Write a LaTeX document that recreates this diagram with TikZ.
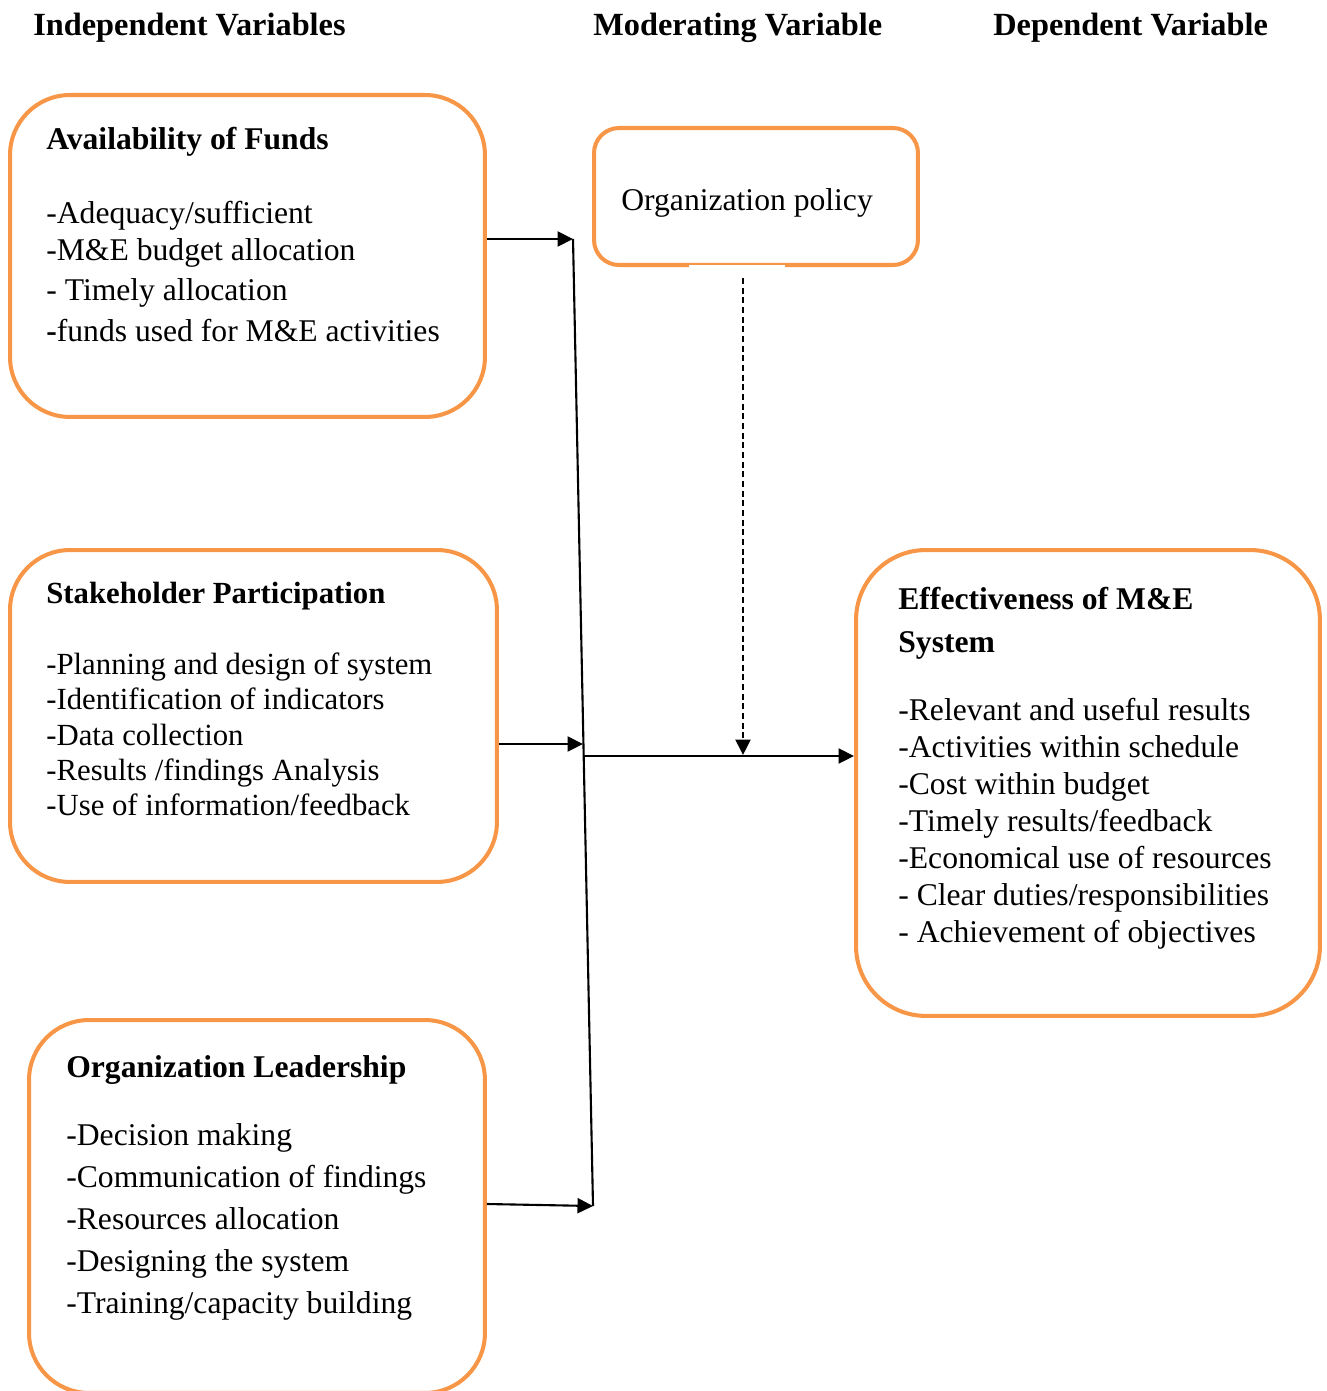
\documentclass[tikz,border=0pt]{standalone}
\usepackage{fontspec}
\setmainfont{Liberation Serif}
\usetikzlibrary{positioning,arrows.meta}
\definecolor{boxorange}{RGB}{247,150,70}
\tikzset{
  varbox/.style={draw=boxorange,line width=2.3pt,rounded corners=1.2cm,anchor=north west,inner sep=0pt},
  vartext/.style={anchor=north west,align=left,inner sep=0pt},
  heading/.style={anchor=base west,inner sep=0pt,font=\fontsize{18.4}{21}\selectfont\bfseries},
  link/.style={line width=1.2pt,-{Triangle[length=0.31cm,width=0.3cm]}},
}

\begin{document}
\begin{tikzpicture}[x=0.02cm,y=-0.02cm]
\useasboundingbox (0,0) rectangle (1326,1391);

\node[heading] (hind) at (33,36) {Independent Variables};
\node[heading] (hmod) at (593,36) {Moderating Variable};
\node[heading] (hdep) at (993,36) {Dependent Variable};

\node[varbox,minimum width=9.5cm,minimum height=6.44cm] (fundsbox) at (8,93) {};
\node[varbox,rounded corners=0.5cm,minimum width=6.48cm,minimum height=2.74cm] (policybox) at (592,126) {};
\node[varbox,minimum width=9.74cm,minimum height=6.64cm] (stakebox) at (8,548) {};
\node[varbox,minimum width=9.12cm,minimum height=7.46cm] (leadbox) at (27,1018) {};
\node[varbox,rounded corners=1.4cm,minimum width=9.28cm,minimum height=9.32cm] (effbox) at (854,548) {};
\draw[white,line width=3pt] (689,268) -- (785,268);

\node[vartext,font=\fontsize{18}{21}\selectfont] (fundstext) at (46,127)
  {\textbf{Availability of Funds}\\[21pt]
   -Adequacy/sufficient\\
   -M\&E budget allocation\\[2pt]
   - Timely allocation\\[2pt]
   \textbf{-}funds used for M\&E activities};
\node[anchor=base west,inner sep=0pt,font=\fontsize{18}{21}\selectfont] (policytext) at (621,211) {Organization policy};
\node[vartext,font=\fontsize{17.5}{20}\selectfont] (staketext) at (46,582)
  {\textbf{Stakeholder Participation}\\[20.5pt]
   -Planning and design of system\\
   -Identification of indicators\\
   -Data collection\\
   -Results /findings Analysis\\
   -Use of information/feedback};
\node[vartext,font=\fontsize{18}{24}\selectfont] (leadtext) at (66,1055)
  {\textbf{Organization Leadership}\\[14.6pt]
   -Decision making\\
   -Communication of findings\\
   -Resources allocation\\
   -Designing the system\\
   -Training/capacity building};
\node[vartext,font=\fontsize{18}{21}\selectfont] (efftext) at (898,587)
  {\textbf{Effectiveness of M\&E}\\[3.5pt]
   \textbf{System}\\[17.7pt]
   -Relevant and useful results\\
   -Activities within schedule\\
   -Cost within budget\\
   -Timely results/feedback\\
   -Economical use of resources\\
   - Clear duties/responsibilities\\
   - Achievement of objectives};

\coordinate (jtop) at (573,239);
\coordinate (jmid) at (583,744);
\coordinate (jbot) at (593,1206);
\coordinate (jout) at (583,756);
\coordinate (mod) at (743,278);
\coordinate (modend) at (743,755);

\draw[line width=1.2pt] (jtop) -- (jbot);
\draw[link] (fundsbox.east |- jtop) -- (jtop);
\draw[link] (stakebox.east |- jmid) -- (jmid);
\draw[link] (leadbox.east |- 0,1204) -- (jbot);
\draw[link] (jout) -- (effbox.west |- jout);
\draw[link,dash pattern=on 3.5pt off 2pt] (mod) -- (modend);

\end{tikzpicture}
\end{document}
